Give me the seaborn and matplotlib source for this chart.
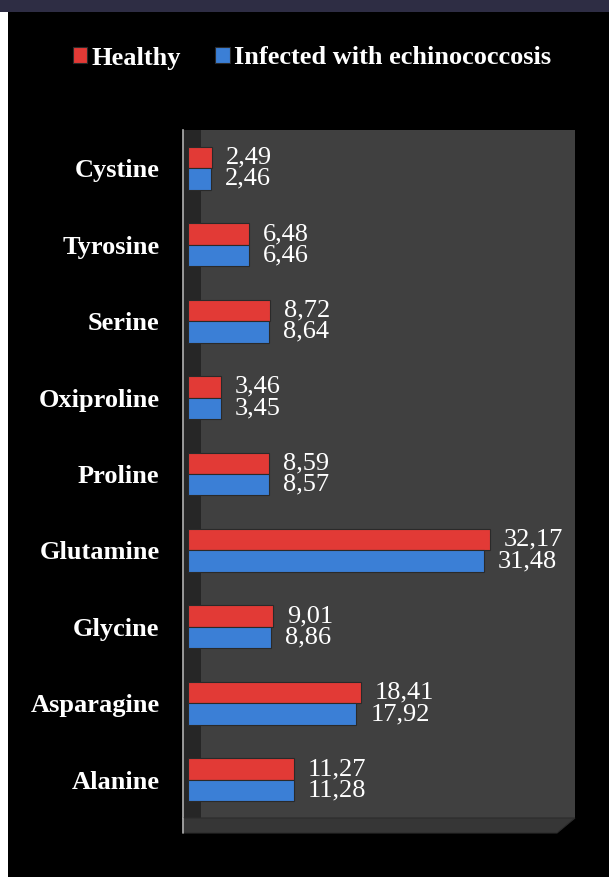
import pandas as pd
import numpy as np
import seaborn as sns
import matplotlib.pyplot as plt
from matplotlib.patches import Rectangle, Polygon

# %% data
categories = ["Cystine", "Tyrosine", "Serine", "Oxiproline", "Proline",
              "Glutamine", "Glycine", "Asparagine", "Alanine"]
healthy = [2.49, 6.48, 8.72, 3.46, 8.59, 32.17, 9.01, 18.41, 11.27]
infected = [2.46, 6.46, 8.64, 3.45, 8.57, 31.48, 8.86, 17.92, 11.28]
groups = ["Healthy", "Infected with echinococcosis"]

df = pd.DataFrame({"amino": categories * 2,
                   "value": healthy + infected,
                   "group": [groups[0]] * len(categories) + [groups[1]] * len(categories)})

# %% plot
sns.set_theme(style="dark")
plt.rcParams["font.family"] = ["Liberation Serif", "DejaVu Serif"]

W, H = 609, 877
fig = plt.figure(figsize=(W / 100, H / 100), dpi=100, facecolor="black")

# axes placed in pixel terms
left, right, top, bottom = 183, 575, 130, 818
ax = fig.add_axes([left / W, 1 - bottom / H, (right - left) / W, (bottom - top) / H])
ax.set_facecolor("#404040")

palette = {groups[0]: "#e23a36", groups[1]: "#3b7fd6"}
sns.barplot(data=df, y="amino", x="value", hue="group", order=categories,
            hue_order=groups, palette=palette, orient="h", width=0.56,
            saturation=1, ax=ax, edgecolor="#2a2a2a", linewidth=0.8, legend=True)

ax.set_xlim(-0.55, 41.2)
ax.set_xlabel("")
ax.set_ylabel("")
ax.set_xticks([])
ax.grid(False)
for s in ["top", "right", "bottom"]:
    ax.spines[s].set_visible(False)
ax.spines["left"].set_color("#b0b0b0")
ax.spines["left"].set_linewidth(1.2)
ax.tick_params(axis="y", length=0, pad=17)
for lab in ax.get_yticklabels():
    lab.set_color("white")
    lab.set_fontweight("bold")
    lab.set_fontsize(19)

# value labels, decimal comma
for cont in ax.containers:
    ax.bar_label(cont, labels=[f"{v:.2f}".replace(".", ",") for v in cont.datavalues],
                 padding=10, color="white", fontsize=19)

# dark left side wall of the 3D box
ax.add_patch(Rectangle((0, 0), 18 / (right - left), 1, transform=ax.transAxes,
                       facecolor="#262626", edgecolor="none", lw=0, zorder=0))

# floor of the 3D box
fx = lambda x: x / W
fy = lambda y: 1 - y / H
floor = Polygon([(fx(183), fy(818)), (fx(575), fy(818)), (fx(557), fy(833)), (fx(183), fy(833))],
                closed=True, transform=fig.transFigure, facecolor="#363636",
                edgecolor="#2c2c2c", lw=0.8)
fig.patches.append(floor)
fig.add_artist(plt.Line2D([fx(183), fx(183)], [fy(818), fy(833)], transform=fig.transFigure,
                          color="#b0b0b0", lw=1.2))

# top band and left white strip
fig.patches.append(Rectangle((0, fy(12)), 1, 12 / H, transform=fig.transFigure,
                             facecolor="#2e2d44", edgecolor="none", lw=0, zorder=5))
fig.patches.append(Rectangle((0, 0), 8 / W, fy(12), transform=fig.transFigure,
                             facecolor="white", edgecolor="none", lw=0, zorder=5))

# legend at top
handles, labels = ax.get_legend_handles_labels()
ax.get_legend().remove()
leg = fig.legend(handles, labels, loc="center", bbox_to_anchor=(0.512, 1 - 58 / H),
                 ncol=2, frameon=False, handlelength=0.55, handleheight=0.55,
                 handletextpad=0.15, columnspacing=1.3,
                 prop={"family": "Liberation Serif", "weight": "bold", "size": 19})
for t in leg.get_texts():
    t.set_color("white")

plt.savefig("out.png", dpi=100, facecolor="black", edgecolor="black")
